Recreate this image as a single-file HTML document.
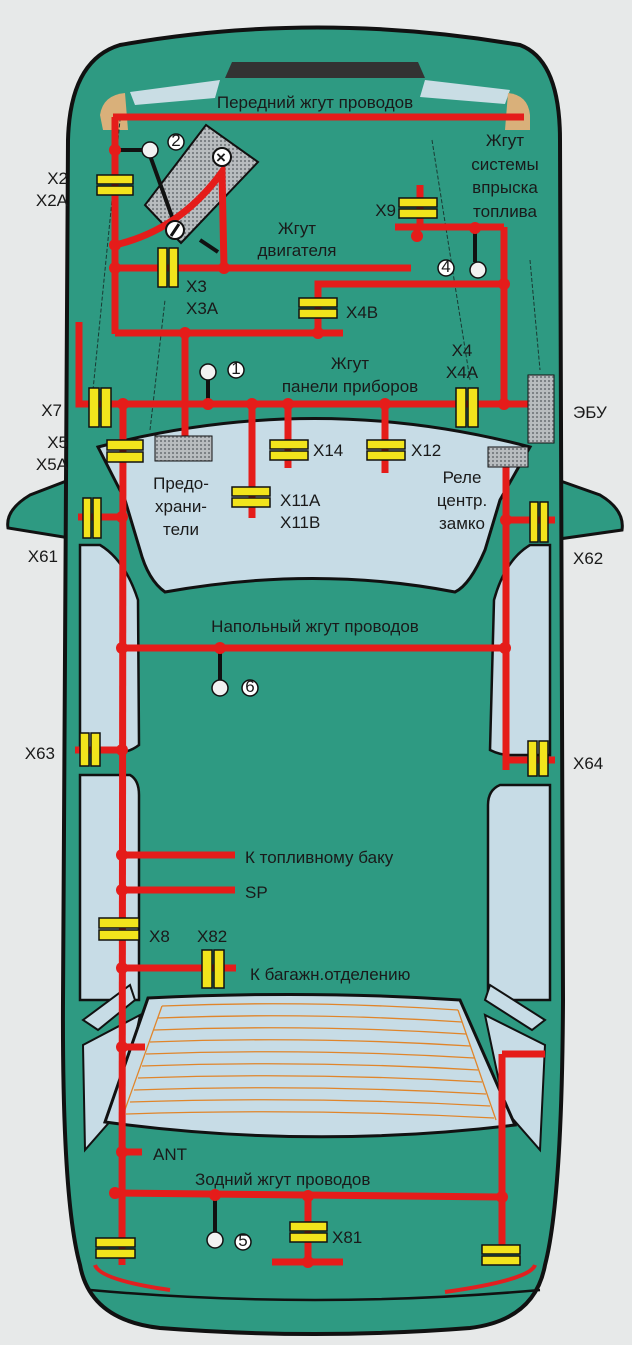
<!DOCTYPE html>
<html><head><meta charset="utf-8"><style>
html,body{margin:0;padding:0;background:#e7e9e9;}
svg{display:block}
text{font-family:"Liberation Sans",sans-serif;fill:#1a1a1a;font-size:17px;}
.b{font-weight:bold}
</style></head><body>
<svg width="632" height="1345" viewBox="0 0 632 1345" xmlns="http://www.w3.org/2000/svg">
<defs>
<pattern id="h" width="4" height="4" patternUnits="userSpaceOnUse"><rect width="4" height="4" fill="#b8bcbf"/><rect width="2" height="2" fill="#7d8286"/></pattern>
</defs>
<!-- mirrors -->
<path d="M82,475 L30,495 Q5,510 8,528 L82,540 Z" fill="#2e9a82" stroke="#111" stroke-width="3"/>
<path d="M552,478 L600,495 Q625,510 622,530 L552,540 Z" fill="#2e9a82" stroke="#111" stroke-width="3"/>
<!-- body -->
<path d="M120,45 Q315,10 520,45 Q560,60 560,140 L563,1000 Q562,1200 545,1265 Q535,1320 470,1328 Q315,1340 160,1328 Q90,1320 80,1265 Q62,1200 63,1000 L68,140 Q70,60 120,45 Z" fill="#2e9a82" stroke="#111" stroke-width="4"/>
<!-- grille / lights -->
<path d="M225,78 L232,62 L418,62 L425,78 Z" fill="#333"/>
<path d="M130,92 L220,80 L215,98 L135,105 Z" fill="#c9dde4"/>
<path d="M425,80 L510,90 L505,104 L420,97 Z" fill="#c9dde4"/>
<path d="M100,115 Q103,95 125,93 L128,130 L103,130 Z" fill="#d9b07a"/>
<path d="M530,115 Q528,95 508,93 L505,130 L530,130 Z" fill="#d9b07a"/>
<!-- thin lines engine bay -->
<path d="M432,140 L470,380 M530,260 L540,370 M90,420 L120,120 M150,430 L165,300" stroke="#1a3a33" stroke-width="1" fill="none" stroke-dasharray="4,2"/>
<!-- windshield -->
<path d="M98,447 Q315,390 530,447 L500,500 L485,550 Q470,585 455,592 Q315,565 165,592 Q148,580 140,550 L125,500 Z" fill="#c7dce6" stroke="#111" stroke-width="3"/>
<!-- side windows -->
<path d="M80,545 L100,545 Q125,560 138,600 L139,745 Q130,752 120,752 L80,752 Z" fill="#c7dce6" stroke="#111" stroke-width="2.5"/>
<path d="M80,775 L130,775 Q139,780 139,795 L139,1000 L80,1000 Z" fill="#c7dce6" stroke="#111" stroke-width="2.5"/>
<path d="M550,545 L530,545 Q505,560 494,600 L490,750 Q500,755 510,755 L550,755 Z" fill="#c7dce6" stroke="#111" stroke-width="2.5"/>
<path d="M550,785 L500,785 Q488,790 488,805 L488,1000 L550,1000 Z" fill="#c7dce6" stroke="#111" stroke-width="2.5"/>
<path d="M83,1020 L130,985 L135,1000 L98,1030 Z M83,1045 L140,1015 L120,1110 L85,1150 Z" fill="#c7dce6" stroke="#111" stroke-width="2"/>
<path d="M545,1020 L490,985 L485,1000 L532,1030 Z M545,1045 L485,1015 L505,1110 L540,1150 Z" fill="#c7dce6" stroke="#111" stroke-width="2"/>
<!-- rear window -->
<path d="M148,998 Q310,990 460,1000 L515,1125 Q310,1150 105,1122 Z" fill="#c7dce6" stroke="#111" stroke-width="3"/>
<g stroke="#e0852a" stroke-width="1.3" fill="none">
<path d="M162,1006 Q310,1000 458,1010 M158,1018 Q310,1012 462,1022 M154,1030 Q310,1024 466,1034 M150,1042 Q310,1036 470,1046 M146,1054 Q310,1048 474,1058 M142,1066 Q310,1060 478,1070 M138,1078 Q310,1072 482,1082 M134,1090 Q310,1084 486,1094 M130,1102 Q310,1096 490,1106 M126,1114 Q310,1108 494,1118"/>
<path d="M162,1006 L122,1118 M458,1010 L496,1120"/>
</g>
<!-- rear bumper lights -->
<path d="M95,1265 Q100,1280 170,1290" stroke="#e02020" stroke-width="4" fill="none"/>
<path d="M535,1265 Q530,1280 445,1292" stroke="#e02020" stroke-width="4" fill="none"/>
<path d="M90,1290 Q315,1310 540,1290" stroke="#111" stroke-width="2.5" fill="none"/>
<!-- battery -->
<path d="M206,125 L258,162 L181,243 L145,205 Z" fill="url(#h)" stroke="#111" stroke-width="2"/>
<!-- black wires -->
<g stroke="#111" stroke-width="4" fill="none">
<path d="M115,150 L148,150 L175,225"/>
<path d="M475,232 L475,262"/>
<path d="M208,404 L208,378"/>
<path d="M220,648 L220,682"/>
<path d="M215,1195 L215,1232"/>
<path d="M200,240 L218,252"/>
</g>
<!-- red wires -->
<g stroke="#e51c1a" stroke-width="7" fill="none" stroke-linecap="butt">
<path d="M113,117 L524,117"/>
<path d="M115,117 L115,334"/>
<path d="M115,245 Q180,230 222,172 L224,268"/>
<path d="M115,268 L411,268"/>
<path d="M115,333 L343,333"/>
<path d="M318,333 L318,284 L504,284"/>
<path d="M504,227 L504,408"/>
<path d="M395,227 L504,227"/>
<path d="M420,185 L420,227"/>
<path d="M417,227 L417,240"/>
<path d="M185,333 L185,436"/>
<path d="M79,322 L79,404 L528,404"/>
<path d="M252,404 L252,518"/>
<path d="M288,404 L288,468"/>
<path d="M385,404 L385,473"/>
<path d="M123,404 L122,1265"/>
<path d="M78,517 L123,517"/>
<path d="M506,467 L506,770"/>
<path d="M506,520 L555,520"/>
<path d="M122,648 L505,648"/>
<path d="M75,750 L122,750"/>
<path d="M506,760 L555,760"/>
<path d="M122,855 L235,855"/>
<path d="M122,890 L235,890"/>
<path d="M122,968 L236,968"/>
<path d="M122,1047 L145,1047"/>
<path d="M122,1152 L142,1152"/>
<path d="M115,1193 L500,1197"/>
<path d="M502,1054 L545,1054"/>
<path d="M502,1054 L502,1250"/>
<path d="M308,1195 L308,1262"/>
<path d="M272,1262 L343,1262"/>
</g>
<g fill="#e51c1a">
<circle cx="115" cy="150" r="6"/><circle cx="115" cy="245" r="6"/><circle cx="115" cy="268" r="6"/><circle cx="224" cy="268" r="6"/>
<circle cx="185" cy="333" r="6"/><circle cx="318" cy="333" r="6"/><circle cx="504" cy="284" r="6"/><circle cx="417" cy="236" r="6"/>
<circle cx="475" cy="228" r="6"/><circle cx="208" cy="404" r="6"/><circle cx="252" cy="404" r="6"/><circle cx="288" cy="404" r="6"/>
<circle cx="385" cy="404" r="6"/><circle cx="123" cy="404" r="6"/><circle cx="504" cy="404" r="6"/><circle cx="122" cy="517" r="6"/>
<circle cx="506" cy="520" r="6"/><circle cx="122" cy="648" r="6"/><circle cx="220" cy="648" r="6"/><circle cx="505" cy="648" r="6"/>
<circle cx="122" cy="750" r="6"/><circle cx="122" cy="855" r="6"/><circle cx="122" cy="890" r="6"/><circle cx="122" cy="968" r="6"/>
<circle cx="122" cy="1047" r="6"/><circle cx="122" cy="1152" r="6"/><circle cx="115" cy="1193" r="6"/><circle cx="215" cy="1195" r="6"/>
<circle cx="308" cy="1196" r="6"/><circle cx="502" cy="1197" r="6"/><circle cx="308" cy="1262" r="6"/>
</g>
<!-- battery terminals -->
<circle cx="222" cy="157" r="9" fill="#fff" stroke="#111" stroke-width="2"/><text x="216" y="163" class="b" font-size="15">×</text>
<circle cx="175" cy="230" r="9" fill="#fff" stroke="#111" stroke-width="2"/><path d="M171,236 L179,224" stroke="#111" stroke-width="3"/>
<!-- grey boxes -->
<rect x="155" y="436" width="57" height="25" fill="url(#h)" stroke="#111"/>
<rect x="528" y="375" width="26" height="68" fill="url(#h)" stroke="#111"/>
<rect x="488" y="447" width="40" height="20" fill="url(#h)" stroke="#111"/>
<!-- white nodes -->
<g fill="#f2f2f2" stroke="#111" stroke-width="1.5">
<circle cx="150" cy="150" r="8"/><circle cx="478" cy="270" r="8"/><circle cx="208" cy="372" r="8"/><circle cx="220" cy="688" r="8"/><circle cx="215" cy="1240" r="8"/>
</g>
<g fill="#fff" stroke="#111" stroke-width="1.5"><circle cx="176" cy="142" r="8"/><circle cx="446" cy="268" r="8"/><circle cx="236" cy="370" r="8"/><circle cx="250" cy="688" r="8"/><circle cx="243" cy="1242" r="8"/></g>
<g font-size="12" text-anchor="middle"><text x="176" y="146">2</text><text x="446" y="272">4</text><text x="236" y="374">1</text><text x="250" y="692">6</text><text x="243" y="1246">5</text></g>
<!-- connectors horizontal (bars stacked) -->
<g fill="#f2e41c" stroke="#111" stroke-width="1.5">
<!-- X2 --><rect x="97" y="175" width="36" height="9"/><rect x="97" y="186" width="36" height="9"/>
<!-- X9 --><rect x="399" y="198" width="38" height="9"/><rect x="399" y="209" width="38" height="9"/>
<!-- X4B --><rect x="299" y="298" width="38" height="9"/><rect x="299" y="309" width="38" height="9"/>
<!-- X5 --><rect x="107" y="440" width="36" height="10"/><rect x="107" y="452" width="36" height="10"/>
<!-- X14 --><rect x="270" y="440" width="38" height="9"/><rect x="270" y="451" width="38" height="9"/>
<!-- X12 --><rect x="367" y="440" width="38" height="9"/><rect x="367" y="451" width="38" height="9"/>
<!-- X11 --><rect x="232" y="487" width="38" height="9"/><rect x="232" y="498" width="38" height="9"/>
<!-- X8 --><rect x="99" y="918" width="40" height="10"/><rect x="99" y="930" width="40" height="10"/>
<!-- X81 --><rect x="290" y="1222" width="37" height="9"/><rect x="290" y="1233" width="37" height="9"/>
<!-- rear L --><rect x="96" y="1238" width="39" height="9"/><rect x="96" y="1249" width="39" height="9"/>
<!-- rear R --><rect x="482" y="1245" width="38" height="9"/><rect x="482" y="1256" width="38" height="9"/>
<!-- vertical -->
<!-- X3 --><rect x="158" y="248" width="9" height="39"/><rect x="169" y="248" width="9" height="39"/>
<!-- X7 --><rect x="89" y="388" width="10" height="39"/><rect x="101" y="388" width="10" height="39"/>
<!-- X4 --><rect x="456" y="388" width="10" height="39"/><rect x="468" y="388" width="10" height="39"/>
<!-- X61 --><rect x="83" y="498" width="8" height="40"/><rect x="93" y="498" width="8" height="40"/>
<!-- X62 --><rect x="530" y="502" width="8" height="40"/><rect x="540" y="502" width="8" height="40"/>
<!-- X63 --><rect x="80" y="733" width="9" height="33"/><rect x="91" y="733" width="9" height="33"/>
<!-- X64 --><rect x="528" y="741" width="9" height="35"/><rect x="539" y="741" width="9" height="35"/>
<!-- X82 --><rect x="202" y="950" width="10" height="38"/><rect x="214" y="950" width="10" height="38"/>
</g>
<!-- labels -->
<text x="315" y="108" text-anchor="middle" font-size="16">Передний жгут проводов</text>
<g text-anchor="middle" font-size="17"><text x="505" y="146">Жгут</text><text x="505" y="170">системы</text><text x="505" y="193">впрыска</text><text x="505" y="217">топлива</text></g>
<g text-anchor="end"><text x="68" y="184">X2</text><text x="68" y="206">X2A</text><text x="396" y="216">X9</text><text x="62" y="416">X7</text><text x="68" y="448">X5</text><text x="68" y="470">X5A</text><text x="58" y="562">X61</text><text x="55" y="759">X63</text></g>
<g text-anchor="middle" font-size="17"><text x="297" y="234">Жгут</text><text x="297" y="256">двигателя</text><text x="350" y="369">Жгут</text><text x="350" y="392">панели приборов</text>
<text x="462" y="356">X4</text><text x="462" y="378">X4A</text>
<text x="181" y="489">Предо-</text><text x="181" y="512">храни-</text><text x="181" y="535">тели</text>
<text x="462" y="483">Реле</text><text x="462" y="506">центр.</text><text x="462" y="529">замко</text></g>
<text x="186" y="292">X3</text><text x="186" y="314">X3A</text>
<text x="346" y="318">X4B</text>
<text x="573" y="418">ЭБУ</text>
<text x="313" y="456">X14</text><text x="411" y="456">X12</text>
<text x="280" y="506">X11A</text><text x="280" y="528">X11B</text>
<text x="573" y="564">X62</text><text x="573" y="769">X64</text>
<text x="315" y="632" text-anchor="middle" font-size="16">Напольный жгут проводов</text>
<text x="245" y="863" font-size="16">К топливному баку</text>
<text x="245" y="898">SP</text>
<text x="149" y="942">X8</text><text x="197" y="942">X82</text>
<text x="250" y="980" font-size="16">К багажн.отделению</text>
<text x="153" y="1160">ANT</text>
<text x="195" y="1185" font-size="16">Зодний жгут проводов</text>
<text x="332" y="1243">X81</text>
</svg>
</body></html>
